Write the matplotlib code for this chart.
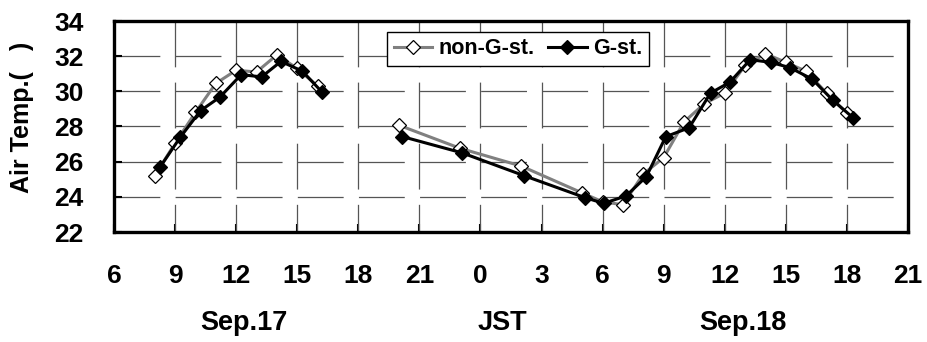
import numpy as np
import matplotlib
matplotlib.use('Agg')
import matplotlib.pyplot as plt

plt.rcParams['font.family'] = ['Liberation Sans', 'DejaVu Sans']
plt.rcParams['font.weight'] = 'bold'
plt.rcParams['lines.scale_dashes'] = False

# hours counted from 0:00 Sep.17 (24 = 0:00 Sep.18)
hours_day1 = [8, 9, 10, 11, 12, 13, 14, 15, 16]
hours_rest = [20, 23, 26, 29, 30, 31, 32, 33, 34, 35, 36, 37, 38, 39, 40, 41, 42]
hours_g_day1 = [8.25, 9.25, 10.25, 11.2, 12.25, 13.25, 14.2, 15.25, 16.2]
hours_g_rest = [20.15, 23.1, 26.15, 29.15, 30.05, 31.15, 32.15, 33.1, 34.25, 35.3,
                36.25, 37.25, 38.25, 39.2, 40.3, 41.3, 42.3]

nong_day1 = [25.2, 27.05, 28.8, 30.45, 31.2, 31.1, 32.07, 31.3, 30.3]
nong_rest = [28.07, 26.76, 25.75, 24.22, 23.72, 23.55, 25.3, 26.23, 28.26, 29.3,
             29.9, 31.47, 32.14, 31.65, 31.14, 29.9, 28.75]
g_day1 = [25.67, 27.38, 28.9, 29.67, 30.95, 30.82, 31.7, 31.15, 29.98]
g_rest = [27.43, 26.5, 25.2, 23.95, 23.63, 24.05, 25.15, 27.42, 27.93, 29.9,
          30.52, 31.8, 31.65, 31.35, 30.69, 29.5, 28.5]

xticks = [6, 9, 12, 15, 18, 21, 24, 27, 30, 33, 36, 39, 42, 45]
xticklabels = ['6', '9', '12', '15', '18', '21', '0', '3', '6', '9', '12', '15', '18', '21']
yticks = [22, 24, 26, 28, 30, 32, 34]

fig = plt.figure(figsize=(9.28, 3.42), dpi=100)
ax = fig.add_axes([114/928, 1-232/342, 794/928, 211/342])

x_n = hours_day1 + [np.nan] + hours_rest
y_n = nong_day1 + [np.nan] + nong_rest
x_g = hours_g_day1 + [np.nan] + hours_g_rest
y_g = g_day1 + [np.nan] + g_rest

ax.plot(x_n, y_n, color='#808080', lw=2.2, marker='D', ms=7, mfc='white',
        mec='black', mew=0.9, label='non-G-st.', zorder=3)
ax.plot(x_g, y_g, color='black', lw=2.2, marker='D', ms=7, mfc='black',
        mec='black', mew=0.9, label='G-st.', zorder=4)

ax.set_xlim(6, 45)
ax.set_ylim(22, 34)
ax.set_xticks(xticks)
ax.set_xticklabels(xticklabels)
ax.set_yticks(yticks)
ax.tick_params(axis='x', direction='in', length=6, width=1.5, pad=23, labelsize=19)
ax.tick_params(axis='y', direction='in', length=6, width=1.5, pad=22, labelsize=19)
for s in ax.spines.values():
    s.set_linewidth(2.4)

# dashed grid, excel style
ax.grid(axis='y', color='#555555', lw=0.9, dashes=(33, 11))
for t in xticks[1:-1]:
    ax.plot([t, t], [1, 0], transform=ax.get_xaxis_transform(), color='#555555',
            lw=0.9, dashes=(33, 11), zorder=1)
ax.set_axisbelow(True)

leg = ax.legend(loc='upper left', bbox_to_anchor=(0.344, 0.948), ncol=2,
                fontsize=15.5, frameon=True, fancybox=False, borderaxespad=0,
                handlelength=1.8, handletextpad=0.3, columnspacing=0.6,
                borderpad=0.3)
leg.get_frame().set_edgecolor('black')
leg.get_frame().set_linewidth(1.0)
leg.get_frame().set_alpha(1)

fig.text(22/928, 1-117/342, 'Air Temp.(   )', rotation=90, ha='center',
         va='center', fontsize=18, fontweight='bold')
fig.text(244/928, 1-323/342, 'Sep.17', ha='center', va='center', fontsize=19.5, fontweight='bold')
fig.text(502/928, 1-323/342, 'JST', ha='center', va='center', fontsize=19.5, fontweight='bold')
fig.text(743/928, 1-323/342, 'Sep.18', ha='center', va='center', fontsize=19.5, fontweight='bold')

fig.savefig('out.png', dpi=100)
